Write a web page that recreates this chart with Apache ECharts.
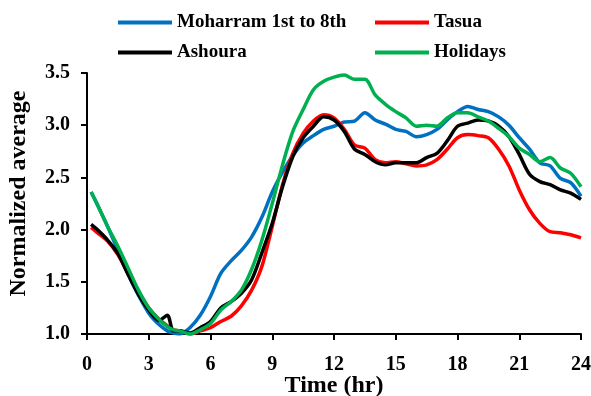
<!DOCTYPE html>
<html>
<head>
<meta charset="utf-8">
<script src="https://cdn.jsdelivr.net/npm/echarts@6/dist/echarts.min.js"></script>
<style>
  html, body { margin: 0; padding: 0; background: #fff; }
  #chart { width: 591px; height: 396px; }
</style>
</head>
<body>
<div id="chart"></div>
<script>
'use strict';

var hours = [0.2, 0.5, 1, 1.5, 2, 2.5, 3, 3.5, 3.9, 4.2, 4.5, 5, 5.5, 6, 6.5, 7, 7.5, 8, 8.5, 9, 9.5,
    10, 10.5, 11, 11.5, 12, 12.5, 13, 13.5, 14, 14.5, 15, 15.5, 16, 16.5, 17, 17.5, 18, 18.5, 19, 19.5,
    20, 20.5, 21, 21.5, 22, 22.5, 23, 23.5, 24];

var moharram = [2.36, 2.24, 2.03, 1.80, 1.57, 1.37, 1.20, 1.09, 1.03, 1.01, 1.00, 1.06, 1.18, 1.36, 1.58, 1.70, 1.80, 1.93, 2.12, 2.36, 2.55,
    2.71, 2.83, 2.90, 2.96, 2.99, 3.03, 3.04, 3.12, 3.05, 3.01, 2.96, 2.94, 2.89, 2.91, 2.96, 3.05, 3.13, 3.18, 3.15, 3.13,
    3.08, 3.00, 2.88, 2.77, 2.64, 2.61, 2.49, 2.45, 2.32];

var tasua = [2.02, 1.97, 1.89, 1.76, 1.58, 1.41, 1.25, 1.14, 1.08, 1.04, 1.03, 1.00, 1.03, 1.06, 1.12, 1.17, 1.27, 1.42, 1.65, 2.03, 2.43,
    2.73, 2.92, 3.04, 3.10, 3.07, 2.96, 2.81, 2.78, 2.67, 2.64, 2.65, 2.63, 2.61, 2.62, 2.67, 2.77, 2.88, 2.91, 2.90, 2.88,
    2.77, 2.61, 2.38, 2.19, 2.06, 1.98, 1.97, 1.95, 1.92];

var ashoura = [2.05, 2.00, 1.90, 1.77, 1.57, 1.38, 1.23, 1.13, 1.18, 1.03, 1.03, 1.01, 1.06, 1.12, 1.25, 1.31, 1.39, 1.52, 1.78, 2.06, 2.41,
    2.70, 2.88, 2.99, 3.08, 3.05, 2.94, 2.77, 2.72, 2.65, 2.62, 2.64, 2.64, 2.64, 2.69, 2.73, 2.85, 2.99, 3.02, 3.05, 3.04,
    2.99, 2.89, 2.72, 2.53, 2.46, 2.43, 2.38, 2.35, 2.29];

var holidays = [2.36, 2.24, 2.03, 1.84, 1.63, 1.42, 1.25, 1.14, 1.07, 1.04, 1.03, 1.00, 1.04, 1.10, 1.23, 1.31, 1.42, 1.62, 1.90, 2.25, 2.62,
    2.94, 3.15, 3.34, 3.42, 3.46, 3.48, 3.44, 3.44, 3.29, 3.20, 3.13, 3.07, 2.99, 3.00, 2.99, 3.07, 3.12, 3.12, 3.08, 3.04,
    2.97, 2.89, 2.78, 2.72, 2.65, 2.69, 2.59, 2.54, 2.41];

var seriesNames = ['Moharram 1st to 8th', 'Tasua', 'Ashoura', 'Holidays'];
var seriesColors = ['#0070C0', '#FF0000', '#000000', '#00B050'];
var seriesValues = [moharram, tasua, ashoura, holidays];

var font = '"Liberation Serif", "Times New Roman", serif';

function pairs(values) {
    return hours.map(function(h, i) { return [h, values[i]]; });
}

// one legend per entry so they sit in a 2x2 block like the original
var legendPos = [[113, 8], [370, 8], [113, 38], [370, 38]];
var legends = seriesNames.map(function(name, i) {
    return {
        data: [name],
        left: legendPos[i][0],
        top: legendPos[i][1],
        itemWidth: 54,
        itemHeight: 18,
        itemGap: 0,
        icon: 'path://M0,8 L54,8 L54,12 L0,12 Z',
        textStyle: { fontFamily: font, fontWeight: 'bold', fontSize: 19, color: '#000' },
        selectedMode: false
    };
});

var myChart = echarts.init(document.getElementById('chart'));

var option = {
    animation: false,
    legend: legends,
    grid: { left: 87, right: 10, top: 73, bottom: 62, containLabel: false, outerBoundsMode: 'none' },
    xAxis: {
        type: 'value',
        min: 0,
        max: 24,
        interval: 3,
        name: 'Time (hr)',
        nameLocation: 'middle',
        nameGap: 40,
        nameMoveOverlap: false,
        nameTextStyle: { fontFamily: font, fontWeight: 'bold', fontSize: 24, color: '#000' },
        axisLine: { lineStyle: { color: '#000', width: 2 } },
        axisTick: { length: 6, lineStyle: { color: '#000', width: 2 } },
        axisLabel: { margin: 21, fontFamily: font, fontWeight: 'bold', fontSize: 20, color: '#000' },
        splitLine: { show: false }
    },
    yAxis: {
        type: 'value',
        min: 1,
        max: 3.5,
        interval: 0.5,
        name: 'Normalized average',
        nameLocation: 'middle',
        nameGap: 56,
        nameMoveOverlap: false,
        nameTextStyle: {
            fontFamily: font, fontWeight: 'bold', fontSize: 24, color: '#000',
            padding: [0, 0, 0, 20]
        },
        axisLine: { show: true, lineStyle: { color: '#000', width: 2 } },
        axisTick: { show: true, length: 6, lineStyle: { color: '#000', width: 2 } },
        axisLabel: {
            margin: 17, fontFamily: font, fontWeight: 'bold', fontSize: 20, color: '#000',
            formatter: function(v) { return v.toFixed(1); }
        },
        splitLine: { show: false }
    },
    series: seriesNames.map(function(name, i) {
        return {
            name: name,
            type: 'line',
            data: pairs(seriesValues[i]),
            symbol: 'none',
            smooth: 0.3,
            color: seriesColors[i],
            lineStyle: { width: 3.5, color: seriesColors[i] }
        };
    })
};

myChart.setOption(option);
</script>
</body>
</html>
